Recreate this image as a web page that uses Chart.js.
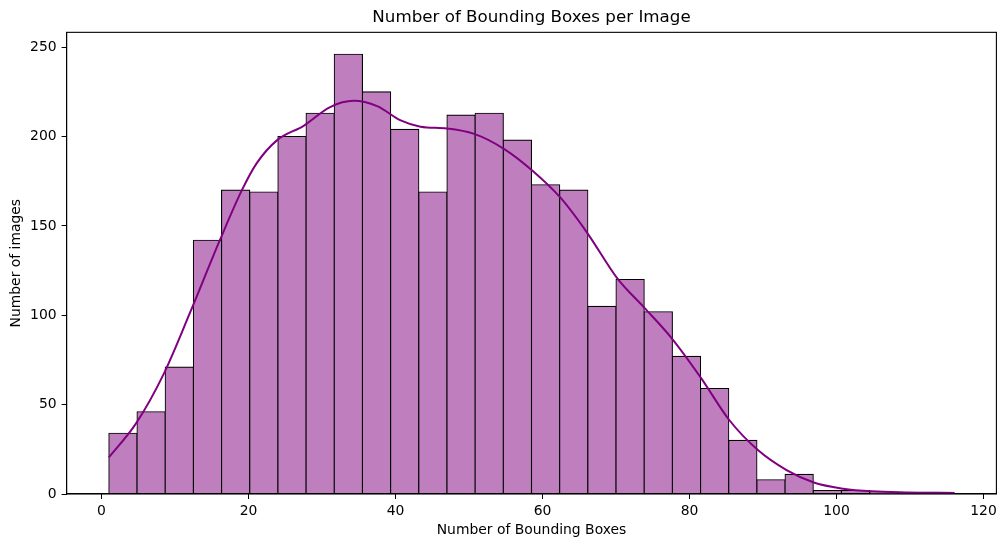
<!DOCTYPE html>
<html>
<head>
<meta charset="utf-8">
<script src="https://cdn.jsdelivr.net/npm/chart.js@4"></script>
<style>
  html, body { margin: 0; padding: 0; background: #fff; }
  #wrap { width: 1005px; height: 547px; }
</style>
</head>
<body>
<div id="wrap"><canvas id="hist"></canvas></div>
<script>
// histogram: 30 bins between the smallest and largest count
const binLow = 1;
const binHigh = 116;
const binCounts = [34, 46, 71, 142, 170, 169, 200, 213, 246, 225,
  204, 169, 212, 213, 198, 173, 170, 105, 120, 102,
  77, 59, 30, 8, 11, 2, 2, 1, 1, 1];

// kde curve
const kdeX = [1, 4.7, 8.5, 12, 16.1, 19.1, 21.1, 23.9, 27.5, 31.1, 34.3, 37.5, 40.7, 43.4,
  47, 50.7, 54.8, 58.6, 62.5, 66.1, 70.2, 73.9, 77.5, 81.6, 85.4, 89.3, 93.2, 97,
  100.9, 104.8, 109.3, 116];
const kdeY = [20.5, 39.5, 67.5, 101, 142, 170, 185, 198, 206, 216.5, 220, 217, 209, 205.5,
  204.5, 201.5, 193, 181, 165.5, 146, 120.5, 104, 87.5, 64.7, 41.4, 24.6, 13.4, 6.3,
  3, 1.5, 0.9, 0.6];

const xTicks = [0, 20, 40, 60, 80, 100, 120];
const yTicks = [0, 50, 100, 150, 200, 250];

const binWidth = (binHigh - binLow) / binCounts.length;
const barData = binCounts.map((c, i) => ({ x: binLow + (i + 0.5) * binWidth, y: c }));
const kdeData = kdeX.map((x, i) => ({ x: x, y: kdeY[i] }));

const font = { family: "'DejaVu Sans', sans-serif", size: 13.9 };

// matplotlib draws a box round the axes
const frame = {
  id: "frame",
  afterDraw(chart) {
    const a = chart.chartArea;
    const ctx = chart.ctx;
    ctx.save();
    ctx.strokeStyle = "#000";
    ctx.lineWidth = 1.1;
    ctx.strokeRect(a.left, a.top, a.right - a.left, a.bottom - a.top);
    ctx.restore();
  },
};

new Chart(document.getElementById("hist"), {
  type: "bar",
  data: {
    datasets: [
      {
        type: "line",
        data: kdeData,
        borderColor: "#800080",
        borderWidth: 2,
        pointRadius: 0,
        cubicInterpolationMode: "monotone",
        order: 0,
      },
      {
        type: "bar",
        data: barData,
        backgroundColor: "#bf7fbf",
        borderColor: "#000",
        borderWidth: 1.1,
        borderSkipped: false,
        inflateAmount: 0.55,
        barPercentage: 1,
        categoryPercentage: 1,
        order: 1,
      },
    ],
  },
  options: {
    responsive: true,
    maintainAspectRatio: false,
    animation: false,
    layout: { padding: { left: 0, right: 8.6, top: 0, bottom: 0 } },
    plugins: {
      legend: { display: false },
      tooltip: { enabled: false },
      title: {
        display: true,
        text: "Number of Bounding Boxes per Image",
        color: "#000",
        fullSize: false,
        font: { family: font.family, size: 16.7, weight: "normal" },
        padding: { top: 8, bottom: 4.3 },
      },
    },
    scales: {
      x: {
        type: "linear",
        offset: false,
        min: -4.75,
        max: 121.75,
        afterBuildTicks: (s) => { s.ticks = xTicks.map((v) => ({ value: v })); },
        afterFit: (s) => { s.height = 53; },
        grid: { offset: false, drawOnChartArea: false, drawTicks: true, tickLength: 5, color: "#000" },
        border: { display: true, color: "#000", width: 1.1 },
        ticks: { color: "#000", font: font, padding: 4, maxRotation: 0 },
        title: {
          display: true,
          text: "Number of Bounding Boxes",
          color: "#000",
          font: font,
          padding: { top: 0, bottom: 8.7 },
        },
      },
      y: {
        min: 0,
        max: 258.3,
        afterBuildTicks: (s) => { s.ticks = yTicks.map((v) => ({ value: v })); },
        afterFit: (s) => { s.width = 66.6; },
        grid: { offset: false, drawOnChartArea: false, drawTicks: true, tickLength: 5, color: "#000" },
        border: { display: true, color: "#000", width: 1.1 },
        ticks: { color: "#000", font: font, padding: 5 },
        title: {
          display: true,
          text: "Number of images",
          color: "#000",
          font: font,
          padding: { top: 7.7, bottom: 0 },
        },
      },
    },
  },
  plugins: [frame],
});
</script>
</body>
</html>
